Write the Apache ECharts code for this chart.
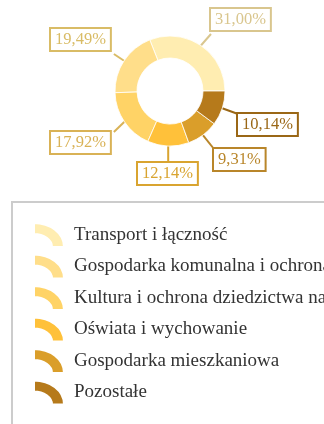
<!DOCTYPE html>
<html>
<head>
<meta charset="utf-8">
<script src="https://cdn.jsdelivr.net/npm/echarts@6/dist/echarts.min.js"></script>
<style>
  html, body { margin: 0; padding: 0; background: #ffffff; }
  #chart { width: 324px; height: 424px; }
</style>
</head>
<body>
<div id="chart"></div>
<script>
// Budget structure by section (share of total, %)
const categories = [
  'Transport i łączność',
  'Gospodarka komunalna i ochrona środowiska',
  'Kultura i ochrona dziedzictwa narodowego',
  'Oświata i wychowanie',
  'Gospodarka mieszkaniowa',
  'Pozostałe'
];
const shares = [31.00, 19.49, 17.92, 12.14, 9.31, 10.14];

const sliceColors = ['#FFEDB1', '#FFDE8A', '#FFD366', '#FFC13A', '#DA9E2A', '#B67A1B'];
const labelColors = ['#D9C68E', '#D9BC66', '#D9B256', '#D9A430', '#B9862A', '#9A6716'];

// Top-left corners of the value boxes around the ring
const labelBoxes = [[211, 9], [51, 29], [51, 132], [138, 163], [214, 149], [238, 114]];

const fmt = v => v.toFixed(2).replace('.', ',') + '%';

const chart = echarts.init(document.getElementById('chart'), null, { renderer: 'canvas' });

const pieData = categories.map((name, i) => ({
  name,
  value: shares[i],
  itemStyle: { color: sliceColors[i] },
  label: { color: labelColors[i], borderColor: labelColors[i] },
  labelLine: { lineStyle: { color: labelColors[i] } }
}));

chart.setOption({
  animation: false,
  backgroundColor: '#ffffff',
  legend: {
    orient: 'vertical',
    left: 12,
    top: 202,
    width: 600,
    height: 400,
    padding: [20, 10, 20, 21],
    borderColor: '#cccccc',
    borderWidth: 2,
    backgroundColor: '#ffffff',
    itemWidth: 30,
    itemHeight: 25,
    itemGap: 5.5,
    icon: 'path://M0,0 C16,0 30,10 30,24 L18,24 C18,17 10,11 0,11 Z',
    textStyle: {
      fontFamily: 'Liberation Serif',
      fontSize: 19,
      color: '#333333',
      padding: [0, 0, 0, 5]
    },
    data: categories
  },
  series: [{
    type: 'pie',
    center: [170, 91],
    radius: [33, 55],
    startAngle: 0,
    clockwise: false,
    avoidLabelOverlap: false,
    itemStyle: { borderColor: '#ffffff', borderWidth: 0.8 },
    emphasis: { disabled: true },
    label: {
      show: true,
      position: 'outside',
      formatter: p => fmt(p.value),
      fontFamily: 'Liberation Serif',
      fontSize: 16.5,
      lineHeight: 18,
      backgroundColor: '#ffffff',
      borderWidth: 2,
      padding: [2, 4, 1, 4]
    },
    labelLine: { show: true, length: 10, length2: 8, lineStyle: { width: 2 } },
    labelLayout: params => {
      const [x, y] = labelBoxes[params.dataIndex];
      const w = params.labelRect.width;
      const h = params.labelRect.height;
      const out = { x, y, align: 'left', verticalAlign: 'top' };
      const pts = params.labelLinePoints;
      if (pts && pts.length) {
        const s = pts[0];
        // join the guide line to the closest point of the box
        const ex = Math.min(Math.max(s[0], x), x + w);
        const ey = Math.min(Math.max(s[1], y), y + h);
        out.labelLinePoints = [[s[0], s[1]], [ex, ey], [ex, ey]];
      }
      return out;
    },
    data: pieData
  }]
});
</script>
</body>
</html>
